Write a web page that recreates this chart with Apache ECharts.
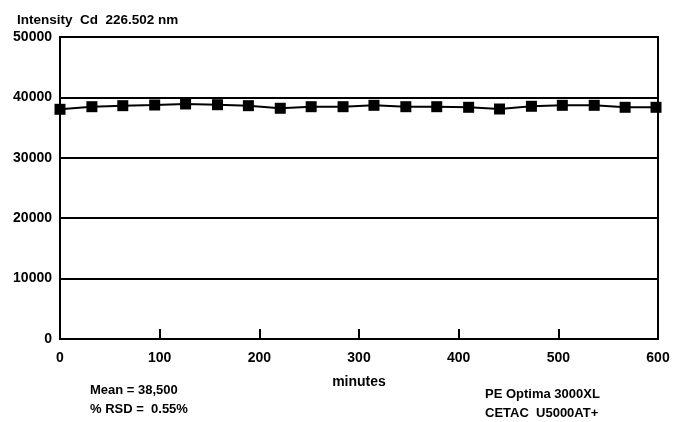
<!DOCTYPE html>
<html>
<head>
<meta charset="utf-8">
<script src="https://cdn.jsdelivr.net/npm/echarts@6/dist/echarts.min.js"></script>
<style>html,body{margin:0;padding:0;background:#fff;}#c{width:674px;height:422px;}</style>
</head>
<body>
<div id="c"></div>
<script>
const minutes = [0, 32, 63, 95, 126, 158, 189, 221, 252, 284, 315, 347, 378, 410, 441, 473, 504, 536, 567, 598];
const intensity = [38030, 38460, 38630, 38740, 38910, 38790, 38630, 38200, 38460, 38460, 38690, 38460, 38460, 38360, 38080, 38530, 38690, 38690, 38360, 38360];
const titleText = 'Intensity  Cd  226.502 nm';
const statsLines = ['Mean = 38,500', '% RSD =  0.55%'];
const instrumentLines = ['PE Optima 3000XL', 'CETAC  U5000AT+'];

const font = 'Liberation Sans, Arial, sans-serif';
const chart = echarts.init(document.getElementById('c'));
chart.setOption({
  animation: false,
  backgroundColor: '#fff',
  grid: { left: 60, right: 16, top: 37, bottom: 83, show: true, borderColor: '#000', borderWidth: 2, backgroundColor: 'transparent' },
  title: { text: titleText, left: 12, top: 8, textStyle: { fontFamily: font, fontSize: 13.5, fontWeight: 'bold', color: '#000' } },
  xAxis: {
    type: 'value', min: 0, max: 600, interval: 100,
    name: 'minutes', nameLocation: 'middle', nameGap: 36,
    nameTextStyle: { fontFamily: font, fontSize: 14, fontWeight: 'bold', color: '#000' },
    axisLine: { show: true, lineStyle: { color: '#000', width: 2 } },
    axisTick: { show: true, inside: true, length: 10, lineStyle: { color: '#000', width: 2 } },
    axisLabel: { margin: 12, fontFamily: font, fontSize: 14, fontWeight: 'bold', color: '#000' },
    splitLine: { show: false }
  },
  yAxis: {
    type: 'value', min: 0, max: 50000, interval: 10000,
    axisLine: { show: true, lineStyle: { color: '#000', width: 2 } },
    axisTick: { show: false },
    axisLabel: { margin: 8, fontFamily: font, fontSize: 14, fontWeight: 'bold', color: '#000', formatter: v => String(v) },
    splitLine: { show: true, lineStyle: { color: '#000', width: 2 } }
  },
  series: [{
    type: 'line',
    data: minutes.map((m, i) => [m, intensity[i]]),
    symbol: 'rect', symbolSize: 11,
    lineStyle: { color: '#000', width: 2 },
    itemStyle: { color: '#000' },
    clip: false
  }],
  graphic: [
    { type: 'text', left: 90, top: 381, style: { text: statsLines.join('\n'), lineHeight: 19, font: 'bold 13px ' + font, fill: '#000' } },
    { type: 'text', left: 485, top: 385, style: { text: instrumentLines.join('\n'), lineHeight: 19, font: 'bold 13px ' + font, fill: '#000' } }
  ]
});
</script>
</body>
</html>
